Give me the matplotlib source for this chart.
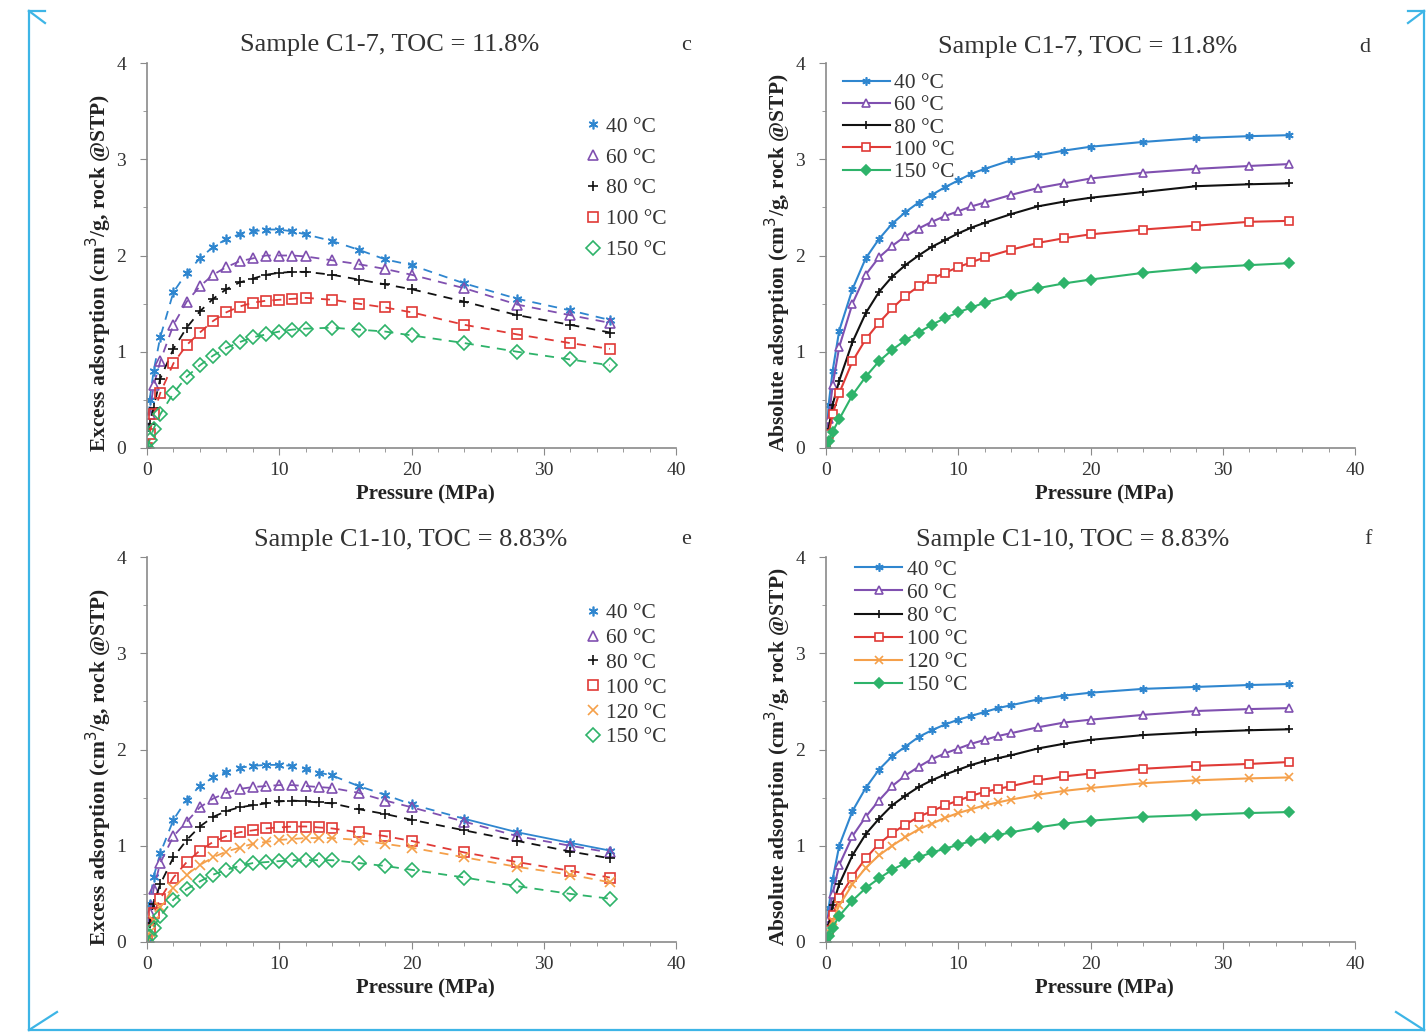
import matplotlib
matplotlib.use("Agg")
import matplotlib.pyplot as plt
from matplotlib.lines import Line2D
from matplotlib.ticker import MultipleLocator

plt.rcParams['font.family'] = ['Liberation Serif', 'DejaVu Serif']

# pressure points (MPa)
p_c17 = [0, 0.2, 0.5, 1, 2, 3, 4, 5, 6, 7, 8, 9, 10, 11, 12, 14, 16, 18, 20, 24, 28, 32, 35]
p_c110 = [0, 0.2, 0.5, 1, 2, 3, 4, 5, 6, 7, 8, 9, 10, 11, 12, 13, 14, 16, 18, 20, 24, 28, 32, 35]

# sample C1-7, excess adsorption
exc_c17 = {
    "40 °C":  [0, 0.50, 0.80, 1.15, 1.62, 1.82, 1.97, 2.09, 2.17, 2.22, 2.25, 2.27, 2.27, 2.25, 2.22, 2.15, 2.06, 1.96, 1.90, 1.71, 1.55, 1.43, 1.33],
    "60 °C":  [0, 0.35, 0.65, 0.90, 1.28, 1.52, 1.68, 1.80, 1.88, 1.94, 1.97, 2.00, 2.00, 2.00, 1.99, 1.95, 1.91, 1.86, 1.80, 1.66, 1.49, 1.38, 1.30],
    "80 °C":  [0, 0.25, 0.42, 0.72, 1.03, 1.25, 1.42, 1.55, 1.65, 1.72, 1.76, 1.80, 1.82, 1.83, 1.83, 1.80, 1.75, 1.70, 1.65, 1.52, 1.38, 1.28, 1.20],
    "100 °C": [0, 0.15, 0.35, 0.57, 0.88, 1.07, 1.20, 1.32, 1.41, 1.47, 1.51, 1.53, 1.54, 1.55, 1.56, 1.54, 1.50, 1.46, 1.41, 1.28, 1.18, 1.09, 1.03],
    "150 °C": [0, 0.08, 0.20, 0.35, 0.57, 0.74, 0.86, 0.96, 1.04, 1.10, 1.15, 1.18, 1.21, 1.23, 1.24, 1.25, 1.23, 1.21, 1.17, 1.09, 1.00, 0.92, 0.86],
}
# sample C1-7, absolute adsorption
abs_c17 = {
    "40 °C":  [0, 0.45, 0.80, 1.22, 1.65, 1.97, 2.17, 2.33, 2.45, 2.55, 2.63, 2.71, 2.78, 2.85, 2.90, 2.99, 3.04, 3.09, 3.13, 3.18, 3.22, 3.24, 3.25],
    "60 °C":  [0, 0.30, 0.65, 1.05, 1.50, 1.80, 1.98, 2.10, 2.20, 2.28, 2.35, 2.41, 2.46, 2.51, 2.55, 2.63, 2.70, 2.75, 2.80, 2.86, 2.90, 2.93, 2.95],
    "80 °C":  [0, 0.20, 0.45, 0.70, 1.10, 1.40, 1.62, 1.78, 1.90, 2.00, 2.09, 2.16, 2.23, 2.29, 2.34, 2.43, 2.51, 2.56, 2.60, 2.66, 2.72, 2.74, 2.75],
    "100 °C": [0, 0.15, 0.35, 0.57, 0.90, 1.13, 1.30, 1.45, 1.58, 1.68, 1.76, 1.82, 1.88, 1.93, 1.98, 2.06, 2.13, 2.18, 2.22, 2.27, 2.31, 2.35, 2.36],
    "150 °C": [0, 0.07, 0.17, 0.30, 0.55, 0.74, 0.90, 1.02, 1.12, 1.20, 1.28, 1.35, 1.41, 1.46, 1.51, 1.59, 1.66, 1.71, 1.75, 1.82, 1.87, 1.90, 1.92],
}
# sample C1-10, excess adsorption
exc_c110 = {
    "40 °C":  [0, 0.40, 0.68, 0.92, 1.27, 1.48, 1.62, 1.71, 1.77, 1.81, 1.83, 1.84, 1.84, 1.83, 1.80, 1.76, 1.73, 1.62, 1.53, 1.43, 1.28, 1.14, 1.03, 0.95],
    "60 °C":  [0, 0.30, 0.55, 0.82, 1.10, 1.25, 1.40, 1.49, 1.55, 1.59, 1.61, 1.62, 1.63, 1.63, 1.62, 1.61, 1.60, 1.55, 1.47, 1.40, 1.25, 1.10, 1.00, 0.93],
    "80 °C":  [0, 0.20, 0.40, 0.60, 0.88, 1.06, 1.20, 1.30, 1.36, 1.40, 1.42, 1.44, 1.46, 1.47, 1.46, 1.45, 1.44, 1.38, 1.33, 1.27, 1.16, 1.05, 0.94, 0.87],
    "100 °C": [0, 0.12, 0.30, 0.45, 0.67, 0.83, 0.95, 1.04, 1.10, 1.14, 1.16, 1.18, 1.19, 1.20, 1.20, 1.19, 1.18, 1.14, 1.10, 1.05, 0.93, 0.83, 0.74, 0.67],
    "120 °C": [0, 0.10, 0.22, 0.36, 0.56, 0.70, 0.80, 0.88, 0.94, 0.98, 1.02, 1.04, 1.06, 1.07, 1.08, 1.08, 1.08, 1.06, 1.02, 0.98, 0.88, 0.78, 0.70, 0.62],
    "150 °C": [0, 0.06, 0.15, 0.27, 0.44, 0.55, 0.63, 0.70, 0.75, 0.79, 0.82, 0.83, 0.84, 0.85, 0.85, 0.85, 0.85, 0.82, 0.79, 0.75, 0.67, 0.58, 0.50, 0.45],
}
# sample C1-10, absolute adsorption
abs_c110 = {
    "40 °C":  [0, 0.35, 0.65, 1.00, 1.36, 1.60, 1.79, 1.93, 2.03, 2.13, 2.20, 2.26, 2.31, 2.35, 2.39, 2.43, 2.46, 2.52, 2.56, 2.59, 2.63, 2.65, 2.67, 2.68],
    "60 °C":  [0, 0.25, 0.50, 0.80, 1.10, 1.30, 1.47, 1.62, 1.73, 1.82, 1.90, 1.96, 2.01, 2.06, 2.10, 2.14, 2.17, 2.23, 2.28, 2.31, 2.36, 2.40, 2.42, 2.43],
    "80 °C":  [0, 0.18, 0.38, 0.60, 0.90, 1.12, 1.28, 1.42, 1.52, 1.61, 1.68, 1.74, 1.79, 1.84, 1.88, 1.91, 1.94, 2.01, 2.06, 2.10, 2.15, 2.18, 2.20, 2.21],
    "100 °C": [0, 0.12, 0.28, 0.46, 0.68, 0.87, 1.02, 1.13, 1.22, 1.30, 1.36, 1.42, 1.47, 1.52, 1.56, 1.59, 1.62, 1.68, 1.72, 1.75, 1.80, 1.83, 1.85, 1.87],
    "120 °C": [0, 0.10, 0.22, 0.38, 0.60, 0.77, 0.90, 1.00, 1.09, 1.17, 1.23, 1.29, 1.34, 1.38, 1.42, 1.45, 1.48, 1.53, 1.57, 1.60, 1.65, 1.68, 1.70, 1.71],
    "150 °C": [0, 0.06, 0.15, 0.27, 0.43, 0.56, 0.66, 0.75, 0.82, 0.88, 0.93, 0.97, 1.01, 1.05, 1.08, 1.11, 1.14, 1.19, 1.23, 1.26, 1.30, 1.32, 1.34, 1.35],
}

colors = {"40 °C": "#2f86cf", "60 °C": "#8050b0", "80 °C": "#111111",
          "100 °C": "#e03a36", "120 °C": "#f5a04a", "150 °C": "#2eb36a"}
markers = {"40 °C": (6, 2, 0), "60 °C": "^", "80 °C": "+",
           "100 °C": "s", "120 °C": "x", "150 °C": "D"}

fig = plt.figure(figsize=(14.26, 10.32), dpi=100)
W, H = 1426, 1032
TXT = "#333333"


def make_ax(x0, y0):
    # x0, y0 = pixel position of the (0, 0) corner
    ax = fig.add_axes([x0 / W, 1 - y0 / H, 529 / W, 385 / H])
    ax.set_xlim(0, 40)
    ax.set_ylim(0, 4)
    ax.xaxis.set_major_locator(MultipleLocator(10))
    ax.xaxis.set_minor_locator(MultipleLocator(2))
    ax.yaxis.set_major_locator(MultipleLocator(1))
    ax.yaxis.set_minor_locator(MultipleLocator(0.5))
    for s in ["top", "right"]:
        ax.spines[s].set_visible(False)
    for s in ["left", "bottom"]:
        ax.spines[s].set_color("#8a8a8a")
        ax.spines[s].set_linewidth(1.2)
    ax.tick_params(which="both", direction="out", color="#8a8a8a", labelsize=14,
                   labelcolor=TXT)
    ax.tick_params(which="major", length=5)
    ax.tick_params(which="minor", length=3)
    ax.tick_params(axis="y", pad=10)
    ax.tick_params(axis="x", pad=5)
    ax.set_xlabel("Pressure (MPa)", fontsize=15, fontweight="bold", color="#222222")
    ax.xaxis.set_label_coords(0.527, -0.094)
    return ax


def heading(title, tx, letter, lx, ytop):
    # title and panel letter, placed by pixel position
    fig.text(tx / W, 1 - ytop / H, title, fontsize=19, ha="center", va="center",
             color=TXT)
    fig.text(lx / W, 1 - ytop / H, letter, fontsize=16, ha="center", va="center",
             color=TXT)


def excess_panel(ax, p, data, leg_top, spacing, solid_from=None):
    for name, vals in data.items():
        c = colors[name]
        if solid_from is not None and name == "40 °C":
            # fitted curve drawn solid over the last points in the source
            k = p.index(solid_from)
            ax.plot(p[:k + 1], vals[:k + 1], "--", color=c, lw=1.3, dashes=(5, 4))
            ax.plot(p[k:], vals[k:], "-", color=c, lw=1.3)
        else:
            ax.plot(p, vals, "--", color=c, lw=1.3, dashes=(5, 4))
        ax.plot(p, vals, linestyle="none", marker=markers[name], ms=7,
                mfc="none", mec=c, mew=1.2, label=name)
    ax.set_ylabel("Excess adsorption (cm$^3$/g, rock @STP)", fontsize=15.5,
                  fontweight="bold", color="#222222")
    ax.yaxis.set_label_coords(-0.063, 0.455)
    ax.legend(loc="upper right", bbox_to_anchor=(1.018, leg_top), frameon=False,
              fontsize=15.5, handlelength=0.6, handletextpad=0.3, labelspacing=spacing,
              labelcolor=TXT)


def absolute_panel(ax, p, data, leg_x, leg_top, spacing):
    for name, vals in data.items():
        c = colors[name]
        filled = name in ("40 °C", "80 °C", "150 °C", "120 °C")
        ms = 5 if name in ("150 °C",) else 6
        ax.plot(p, vals, "-", color=c, lw=1.5, marker=markers[name], ms=ms,
                mfc=c if filled else "white", mec=c, mew=1.2, label=name)
    ax.set_ylabel("Absolute adsorption (cm$^3$/g, rock @STP)", fontsize=15.5,
                  fontweight="bold", color="#222222")
    ax.yaxis.set_label_coords(-0.063, 0.48)
    ax.legend(loc="upper left", bbox_to_anchor=(leg_x, leg_top), frameon=False,
              fontsize=15.5, handlelength=2.2, handletextpad=0.2, labelspacing=spacing,
              labelcolor=TXT)


ax_c = make_ax(147, 448)
excess_panel(ax_c, p_c17, exc_c17, 0.911, 0.5)
heading("Sample C1-7, TOC = 11.8%", 390, "c", 686, 45)

ax_d = make_ax(826, 448)
absolute_panel(ax_d, p_c17, abs_c17, -0.005, 1.024, 0.1)
heading("Sample C1-7, TOC = 11.8%", 1088, "d", 1365, 47)

ax_e = make_ax(147, 942)
excess_panel(ax_e, p_c110, exc_c110, 0.93, 0.22, solid_from=24)
heading("Sample C1-10, TOC = 8.83%", 411, "e", 686, 540)

ax_f = make_ax(826, 942)
absolute_panel(ax_f, p_c110, abs_c110, 0.018, 1.043, 0.14)
heading("Sample C1-10, TOC = 8.83%", 1073, "f", 1368, 540)

# light blue frame round the picture
frame = "#3db5e6"


def fline(xs, ys):
    fig.add_artist(Line2D([x / W for x in xs], [1 - y / H for y in ys],
                          color=frame, lw=1.6, transform=fig.transFigure))


fline([29, 29], [11, 1030])
fline([1424, 1424], [11, 1030])
fline([29, 1424], [1030, 1030])
fline([29, 45], [11, 11])
fline([1408, 1424], [11, 11])
fline([29, 45], [11, 23])
fline([1424, 1408], [11, 23])
fline([29, 57], [1030, 1012])
fline([1424, 1396], [1030, 1012])

fig.savefig("out.png", dpi=100)
